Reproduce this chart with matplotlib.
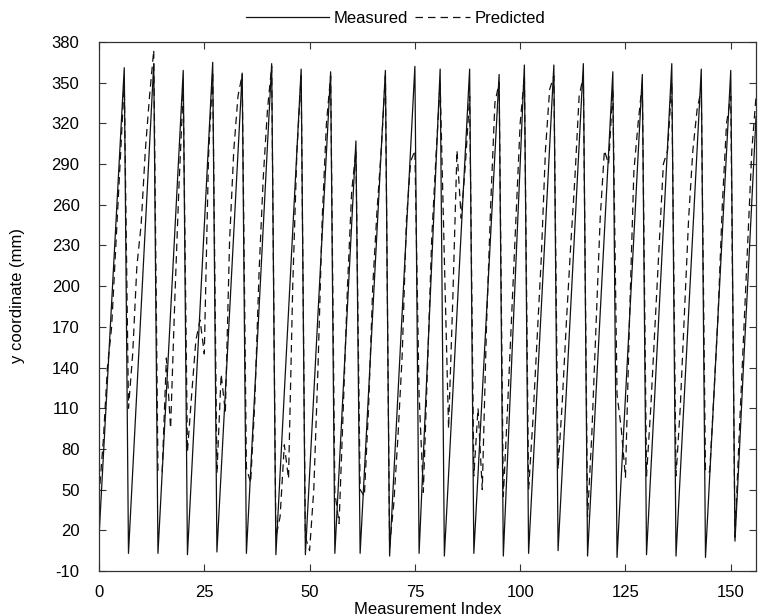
import numpy as np
import matplotlib.pyplot as plt

plt.rcParams['font.family'] = ['Liberation Sans', 'DejaVu Sans']
plt.rcParams['axes.unicode_minus'] = False

# measured y coordinate, one cycle per line (trough -> peak)
measured = [
    15, 72, 130, 188, 245, 303, 361,
    3, 63, 123, 184, 244, 304, 364,
    3, 62, 121, 181, 240, 300, 359,
    2, 63, 123, 184, 244, 305, 365,
    4, 63, 122, 180, 239, 298, 357,
    3, 63, 124, 184, 244, 304, 364,
    2, 62, 122, 181, 241, 300, 360,
    2, 61, 120, 180, 239, 299, 358,
    3, 64, 125, 186, 246, 307,
    3, 62, 122, 181, 240, 300, 359,
    1, 61, 121, 182, 242, 302, 362,
    3, 74, 146, 217, 289, 360,
    1, 61, 120, 180, 240, 300, 360,
    3, 62, 121, 180, 238, 297, 356,
    1, 73, 145, 218, 290, 363,
    3, 63, 123, 183, 243, 303, 363,
    5, 65, 125, 185, 244, 304, 364,
    1, 61, 120, 180, 239, 299, 358,
    0, 59, 119, 178, 237, 297, 356,
    2, 62, 123, 183, 243, 304, 364,
    1, 61, 120, 180, 240, 300, 360,
    0, 60, 120, 180, 239, 299, 359,
    12, 75, 140, 200, 262, 325,
]

# predicted y coordinate, same indexing
predicted = [
    45, 85, 140, 170, 230, 290, 350,
    110, 150, 215, 245, 300, 340, 374,
    63, 63, 147, 95, 190, 275, 345,
    78, 120, 160, 175, 150, 295, 358,
    62, 135, 107, 233, 300, 340, 356,
    66, 55, 115, 210, 280, 330, 362,
    15, 30, 83, 58, 200, 300, 355,
    15, 5, 50, 140, 250, 320, 355,
    48, 25, 110, 200, 270, 300,
    50, 45, 110, 200, 255, 300, 355,
    8, 40, 90, 150, 249, 292, 300,
    120, 48, 140, 235, 295, 350,
    220, 95, 190, 300, 250, 290, 340,
    60, 110, 50, 170, 260, 335, 350,
    45, 110, 180, 250, 320, 355,
    50, 100, 160, 220, 300, 345, 355,
    65, 115, 175, 230, 280, 340, 355,
    30, 90, 170, 250, 300, 290, 345,
    120, 95, 59, 180, 285, 320, 350,
    60, 110, 170, 230, 290, 300, 350,
    60, 110, 180, 250, 300, 330, 345,
    63, 63, 120, 180, 260, 320, 340,
    15, 90, 160, 230, 300, 340,
]

idx = np.arange(len(measured))

fig = plt.figure(figsize=(7.58, 6.16), dpi=100)
ax = fig.add_axes([0.1306, 0.0731, 0.8668, 0.8588])

l1, = ax.plot(idx, measured, '-', color='#111111', lw=0.9)
l2, = ax.plot(idx, predicted, '--', color='#111111', lw=0.9, dashes=(6, 4))

ax.set_xlim(0, 156)
ax.set_ylim(-10, 380)
ax.set_xticks(np.arange(0, 151, 25))
ax.set_yticks(np.arange(-10, 381, 30))
ax.tick_params(direction='in', top=True, right=True, length=5, labelsize=12, color='#333333')
ax.tick_params(axis='x', pad=10)
ax.tick_params(axis='y', pad=14)
for s in ax.spines.values():
    s.set_color('#333333')
    s.set_linewidth(0.9)

ax.set_xlabel('Measurement Index', fontsize=12)
ax.set_ylabel('y coordinate (mm)', fontsize=12)
ax.xaxis.set_label_coords(0.5, -0.058)
ax.yaxis.set_label_coords(-0.112, 0.52)

# two legends side by side so the dashed key can be shorter
leg1 = ax.legend([l1], ['Measured'], loc='lower right', bbox_to_anchor=(0.470, 1.03),
                 frameon=False, fontsize=12, handlelength=5.0, handletextpad=0.25,
                 borderaxespad=0, borderpad=0)
ax.add_artist(leg1)
ax.legend([l2], ['Predicted'], loc='lower left', bbox_to_anchor=(0.481, 1.03),
          frameon=False, fontsize=12, handlelength=3.3, handletextpad=0.3,
          borderaxespad=0, borderpad=0)

fig.savefig('out.png', dpi=100)
